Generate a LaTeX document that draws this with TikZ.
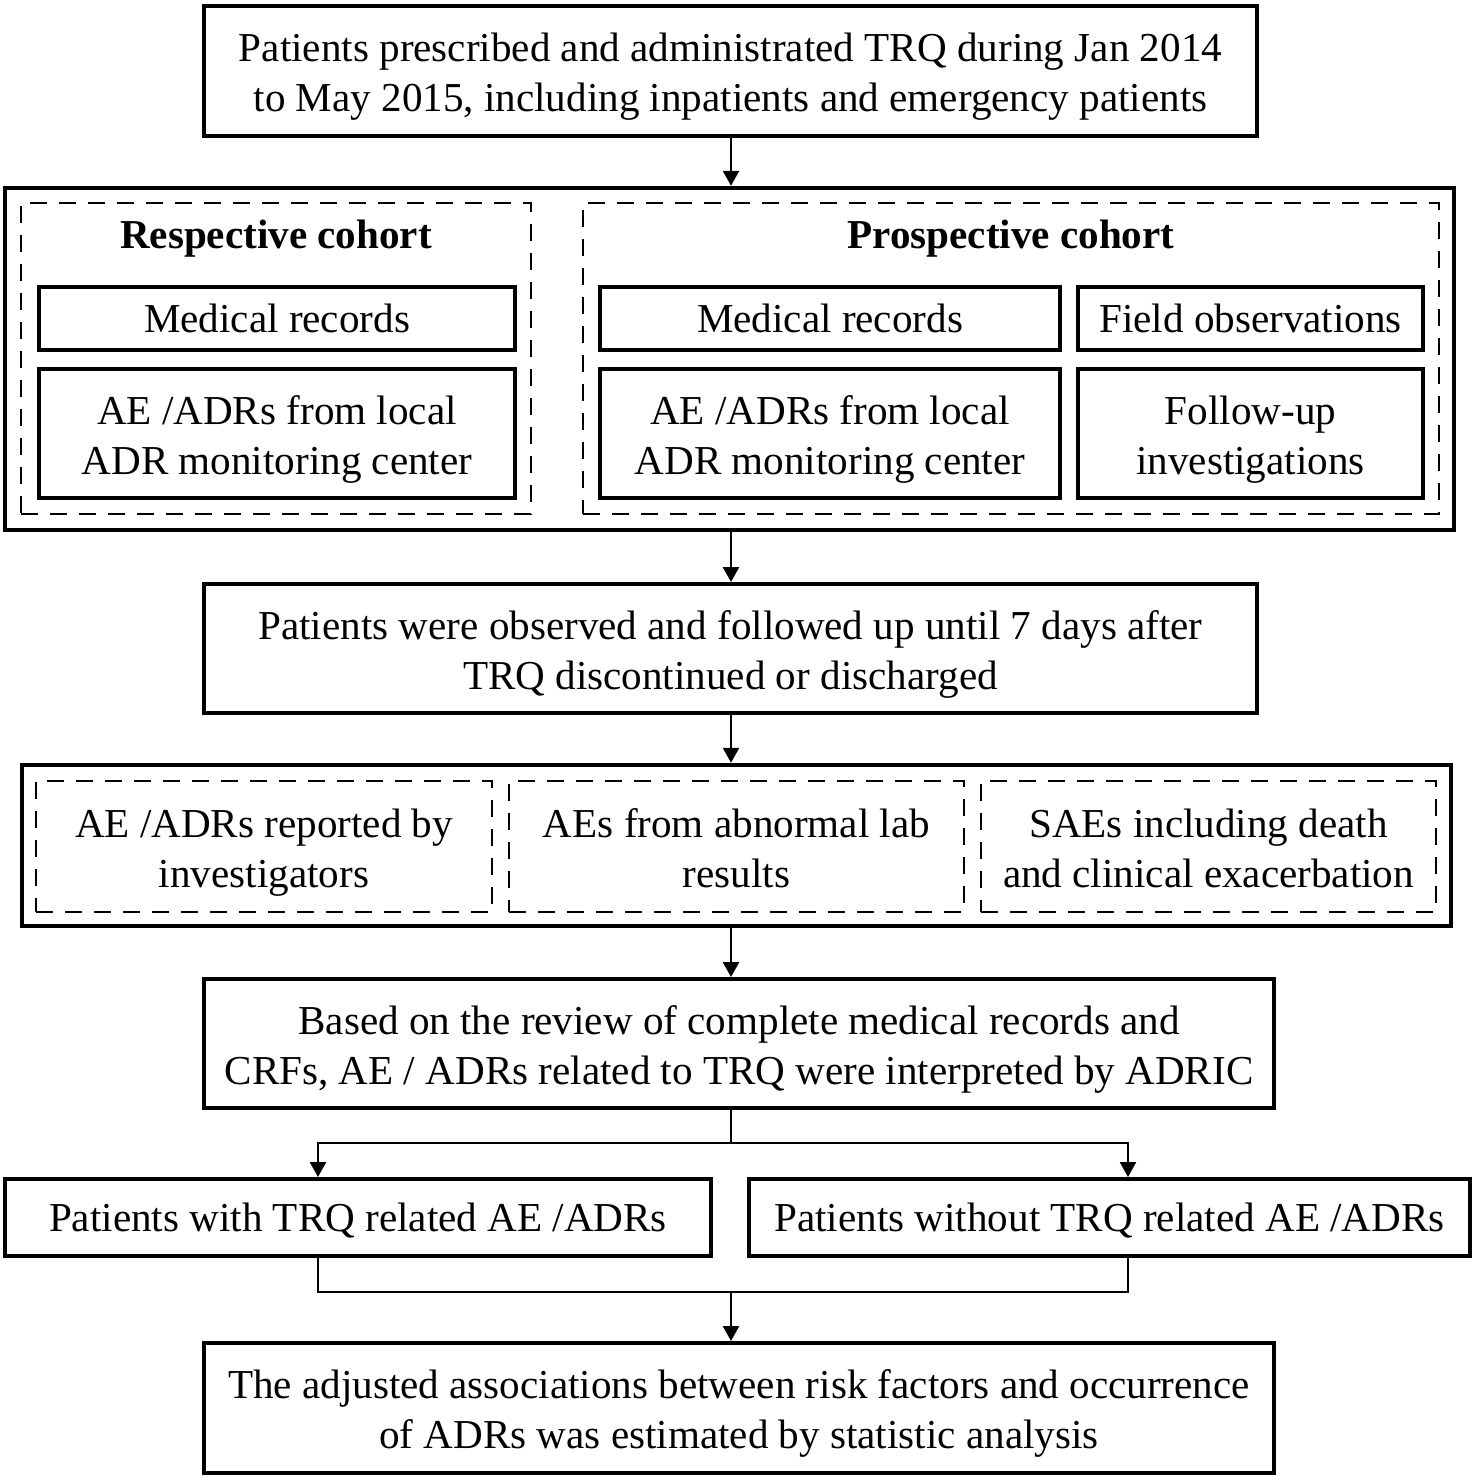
\documentclass[tikz,border=0pt]{standalone}
\usepackage{fontspec}
\setmainfont{Liberation Serif}
\usetikzlibrary{arrows.meta}

\tikzset{solid box/.style={draw,line width=0.08cm,align=center,inner sep=0cm,font=\fontsize{23.4}{28.5}\selectfont},
dash box/.style={draw,line width=0.045cm,dash pattern=on 0.34cm off 0.24cm,align=center,inner sep=0cm,font=\fontsize{23.4}{28.5}\selectfont},
two lines/.style={text height=1.625cm,text depth=0cm},
one line/.style={text depth=0cm},
outer box/.style={draw,line width=0.09cm,inner sep=0cm},
cohort title/.style={font=\fontsize{23.4}{28.5}\selectfont\bfseries,inner sep=0cm,text depth=0cm},
link/.style={line width=0.05cm},
arrow/.style={line width=0.05cm,-{Triangle[length=0.3cm,width=0.32cm]}}}

\begin{document}
\begin{tikzpicture}[x=0.02cm,y=-0.02cm]
\useasboundingbox (0,0) rectangle (1476,1482);

%% Coordinates of the arrows.
\coordinate (spine) at (731,0);
\coordinate (fork) at (731,1143);
\coordinate (forkl) at (318,1143);
\coordinate (forkr) at (1128,1143);
\coordinate (join) at (731,1292);
\coordinate (joinl) at (318,1292);
\coordinate (joinr) at (1128,1292);

%% main boxes
\node [solid box,two lines,minimum width=21.06cm,minimum height=2.6cm] (src) at (730.5,71)
  {Patients prescribed and administrated TRQ during Jan 2014\\to May 2015, including inpatients and emergency patients};
\node [outer box,minimum width=28.98cm,minimum height=6.84cm] (cohort) at (729.5,359) {};
\node [solid box,two lines,minimum width=21.06cm,minimum height=2.58cm] (follow) at (730.5,648.5)
  {Patients were observed and followed up until 7 days after\\TRQ discontinued or discharged};
\node [outer box,minimum width=28.58cm,minimum height=3.22cm] (events) at (736.5,845.5) {};
\node [solid box,two lines,minimum width=21.4cm,minimum height=2.58cm] (review) at (739,1043.5)
  {Based on the review of complete medical records and\\CRFs, AE / ADRs related to TRQ were interpreted by ADRIC};
\node [solid box,one line,minimum width=14.12cm,minimum height=1.54cm] (with) at (358,1217.5)
  {Patients with TRQ related AE /ADRs};
\node [solid box,one line,minimum width=14.42cm,minimum height=1.54cm] (without) at (1109.5,1217.5)
  {Patients without TRQ related AE /ADRs};
\node [solid box,two lines,minimum width=21.4cm,minimum height=2.6cm] (stats) at (739,1408)
  {The adjusted associations between risk factors and occurrence\\of ADRs was estimated by statistic analysis};

%% cohorts
\node [dash box,minimum width=10.2cm,minimum height=6.22cm] (resp) at (276,358.5) {};
\node [dash box,minimum width=17.12cm,minimum height=6.22cm] (prosp) at (1011,358.5) {};
\node [cohort title] (resptitle) at (276,234) {Respective cohort};
\node [cohort title] (prosptitle) at (1011,234) {Prospective cohort};
\node [solid box,one line,minimum width=9.52cm,minimum height=1.26cm] (respmed) at (277,318.5) {Medical records};
\node [solid box,two lines,minimum width=9.52cm,minimum height=2.58cm] (respadr) at (277,433.5)
  {AE /ADRs from local\\ADR monitoring center};
\node [solid box,one line,minimum width=9.2cm,minimum height=1.26cm] (prospmed) at (830,318.5) {Medical records};
\node [solid box,two lines,minimum width=9.2cm,minimum height=2.58cm] (prospadr) at (830,433.5)
  {AE /ADRs from local\\ADR monitoring center};
\node [solid box,one line,minimum width=6.9cm,minimum height=1.26cm] (field) at (1250.5,318.5) {Field observations};
\node [solid box,two lines,minimum width=6.9cm,minimum height=2.58cm] (followup) at (1250.5,433.5)
  {Follow-up\\investigations};

%% event sources
\node [dash box,two lines,minimum width=9.12cm,minimum height=2.62cm] (byinv) at (264,846.5)
  {AE /ADRs reported by\\investigators};
\node [dash box,two lines,minimum width=9.1cm,minimum height=2.62cm] (bylab) at (736.5,846.5)
  {AEs from abnormal lab\\results};
\node [dash box,two lines,minimum width=9.1cm,minimum height=2.62cm] (bysae) at (1208.5,846.5)
  {SAEs including death\\and clinical exacerbation};

%% arrows
\draw [arrow] (src.south -| spine) -- (cohort.north -| spine);
\draw [arrow] (cohort.south -| spine) -- (follow.north -| spine);
\draw [arrow] (follow.south -| spine) -- (events.north -| spine);
\draw [arrow] (events.south -| spine) -- (review.north -| spine);
\draw [link] (review.south -| spine) -- (fork);
\draw [arrow] (fork) -- (forkl) -- (with.north -| forkl);
\draw [arrow] (fork) -- (forkr) -- (without.north -| forkr);
\draw [link] (with.south -| joinl) -- (joinl) -- (joinr) -- (without.south -| joinr);
\draw [arrow] (join) -- (stats.north -| join);

\end{tikzpicture}
\end{document}
